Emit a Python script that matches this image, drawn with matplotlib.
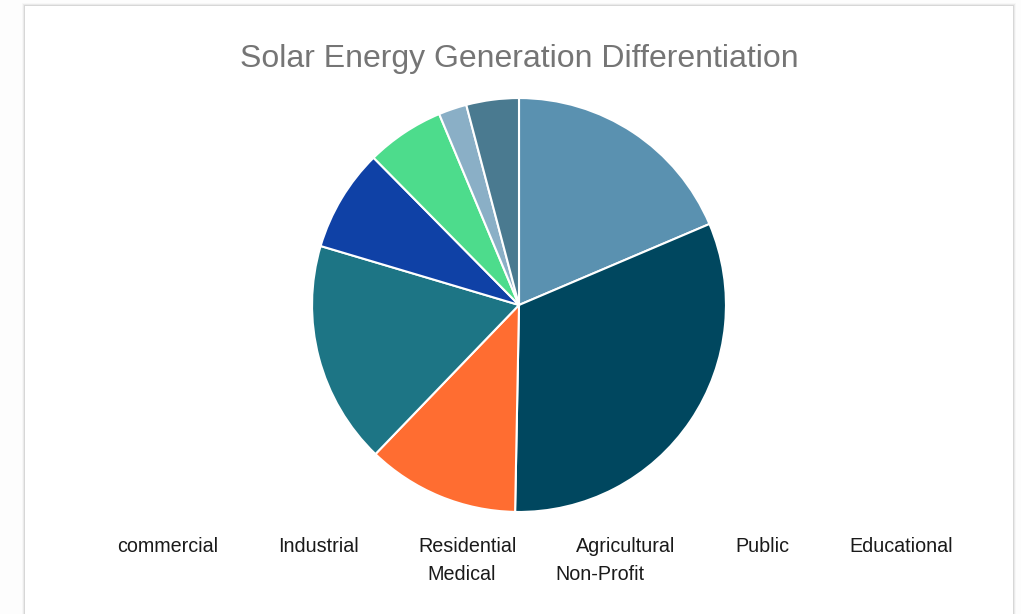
import matplotlib.pyplot as plt
from matplotlib.patches import Rectangle

# slice shares (%)
labels = ['commercial', 'Industrial', 'Residential', 'Agricultural',
          'Public', 'Educational', 'Medical', 'Non-Profit']
values = [18.6, 31.7, 11.9, 17.4, 8.0, 6.1, 2.2, 4.1]
colors = ['#5a91b0', '#00475f', '#ff6d31', '#1d7585',
          '#0f41a6', '#4ddc8c', '#8aafc6', '#4a7a90']

W, H = 1021, 614
fig = plt.figure(figsize=(W / 100, H / 100), dpi=100, facecolor='#fdfdfd')
plt.rcParams['font.family'] = ['Liberation Sans', 'DejaVu Sans']

# card with a soft shadow
for i, a in enumerate([0.08, 0.05, 0.025]):
    fig.patches.append(Rectangle(((25 - 1 - i) / W, 0), (988 + 2 * (1 + i)) / W, (608 + 1 + i) / H,
                                 transform=fig.transFigure, facecolor='#000000', alpha=a,
                                 edgecolor='none', zorder=0))
fig.patches.append(Rectangle((25 / W, 0), 988 / W, 608 / H, transform=fig.transFigure,
                             facecolor='white', edgecolor='none', zorder=1))

cx, cy, r = 519, 305, 208
ax = fig.add_axes([(cx - r) / W, (H - cy - r) / H, 2 * r / W, 2 * r / H])
ax.pie(values, colors=colors, startangle=90, counterclock=False,
       wedgeprops=dict(edgecolor='white', linewidth=1.5))
ax.set_xlim(-1.005, 1.005)
ax.set_ylim(-1.005, 1.005)
ax.set_zorder(2)

fig.text(519 / W, 1 - 59 / H, 'Solar Energy Generation Differentiation',
         ha='center', va='center', fontsize=23, color='#757575', zorder=3)

# legend text only (no markers), 6 in first row, 2 in second
row1_x = [168, 318, 467.5, 625.5, 762.5, 901.5]
row2_x = [461.5, 599.5]
for x, lab in zip(row1_x, labels[:6]):
    fig.text(x / W, 1 - 546 / H, lab, ha='center', va='center',
             fontsize=14.2, color='#1a1a1a', zorder=3)
for x, lab in zip(row2_x, labels[6:]):
    fig.text(x / W, 1 - 575 / H, lab, ha='center', va='center',
             fontsize=14.2, color='#1a1a1a', zorder=3)

fig.savefig('out.png', dpi=100, facecolor=fig.get_facecolor())
